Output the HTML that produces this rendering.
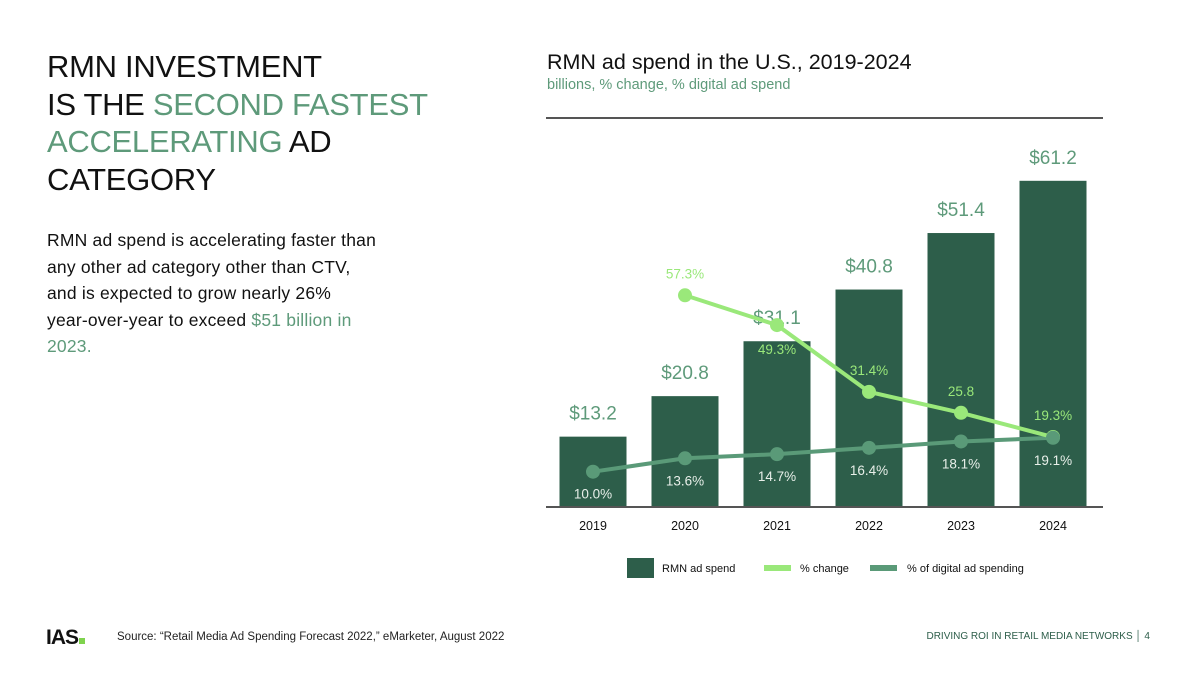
<!DOCTYPE html>
<html><head><meta charset="utf-8"><style>
body{margin:0;width:1200px;height:675px;background:#fff;font-family:"Liberation Sans",sans-serif;position:relative;overflow:hidden;color:#111}
.h{position:absolute;left:47px;top:48px;font-size:31px;line-height:37.5px;color:#111;letter-spacing:-0.3px}
.g{color:#5e9a7a}
.p{position:absolute;left:47px;top:227px;font-size:17.5px;line-height:26.6px;width:360px;white-space:nowrap;letter-spacing:0.2px}
.ct{position:absolute;left:547px;top:50px;font-size:21.5px}
.cs{position:absolute;left:547px;top:77px;font-size:14.5px;color:#5e9a7a}
.f{position:absolute;top:631px;font-size:11.5px;color:#222}
</style></head><body>
<div class="h">RMN INVESTMENT<br>IS THE <span class="g">SECOND FASTEST</span><br><span class="g">ACCELERATING</span> AD<br>CATEGORY</div>
<div class="p">RMN ad spend is accelerating faster than<br>any other ad category other than CTV,<br>and is expected to grow nearly 26%<br>year-over-year to exceed <span class="g">$51 billion in<br>2023.</span></div>
<div class="ct">RMN ad spend in the U.S., 2019-2024</div>
<div class="cs">billions, % change, % digital ad spend</div>
<svg id="c" width="1200" height="675" style="position:absolute;left:0;top:0"></svg>
<div style="position:absolute;left:46px;top:626px;font-size:21px;font-weight:bold;letter-spacing:-1px">IAS<span style="display:inline-block;width:6px;height:6px;background:#7fd34e;margin-left:1px"></span></div>
<div class="f" style="left:117px">Source: “Retail Media Ad Spending Forecast 2022,” eMarketer, August 2022</div>
<div class="f" style="right:50px;font-size:10px;color:#2d5e4a">DRIVING ROI IN RETAIL MEDIA NETWORKS │ 4</div>
<script>
const years=["2019","2020","2021","2022","2023","2024"];
const spend=[13.2,20.8,31.1,40.8,51.4,61.2];
const spendLabels=["$13.2","$20.8","$31.1","$40.8","$51.4","$61.2"];
const change=[null,57.3,49.3,31.4,25.8,19.3];
const changeLabels=["","57.3%","49.3%","31.4%","25.8","19.3%"];
const share=[10.0,13.6,14.7,16.4,18.1,19.1];
const shareLabels=["10.0%","13.6%","14.7%","16.4%","18.1%","19.1%"];
const svg=document.getElementById('c'),NS="http://www.w3.org/2000/svg";
const base=507;
const x=i=>593+i*92;
const yb=v=>base-v*5.33;
const yp=v=>509-v*3.73;
function mk(t,a,txt){const e=document.createElementNS(NS,t);for(const k in a)e.setAttribute(k,a[k]);if(txt!=null)e.textContent=txt;svg.appendChild(e);return e;}
let e=mk('line',{x1:546,x2:1103,y1:118,y2:118,stroke:'#555','stroke-width':2});

spend.forEach((v,i)=>{
 e=mk('rect',{x:x(i)-33.5,y:yb(v),width:67,height:base-yb(v),fill:'#2d5e4a'});
 
 e=mk('text',{x:x(i),y:yb(v)-17,'text-anchor':'middle','font-size':19,fill:'#5e9a7a'},spendLabels[i]);
 
 e=mk('text',{x:x(i),y:530,'text-anchor':'middle','font-size':12.5,fill:'#111'},years[i]);
 
});
e=mk('line',{x1:546,x2:1103,y1:base,y2:base,stroke:'#555','stroke-width':2});

e=mk('polyline',{points:share.map((v,i)=>x(i)+','+yp(v)).join(' '),fill:'none',stroke:'#5a9a78','stroke-width':4});

const cp=change.map((v,i)=>v==null?null:x(i)+','+yp(v)).filter(p=>p);
e=mk('polyline',{points:cp.join(' '),fill:'none',stroke:'#9ae87a','stroke-width':4});

change.forEach((v,i)=>{if(v==null)return;
 e=mk('circle',{cx:x(i),cy:yp(v),r:7,fill:'#9ae87a'});
 
 const dy=i==2?29:-17;
 e=mk('text',{x:x(i),y:yp(v)+dy,'text-anchor':'middle','font-size':13.5,fill:'#9ae87a'},changeLabels[i]);
 
});
share.forEach((v,i)=>{
 e=mk('circle',{cx:x(i),cy:yp(v),r:7,fill:'#5a9a78'});
 
 e=mk('text',{x:x(i),y:yp(v)+27,'text-anchor':'middle','font-size':13.5,fill:'#e8efe9'},shareLabels[i]);
 
});
e=mk('rect',{x:627,y:558,width:27,height:20,fill:'#2d5e4a'});
e=mk('text',{x:662,y:572,'font-size':11,fill:'#111'},'RMN ad spend');
e=mk('rect',{x:764,y:565,width:27,height:6,fill:'#9ae87a'});
e=mk('text',{x:800,y:572,'font-size':11,fill:'#111'},'% change');
e=mk('rect',{x:870,y:565,width:27,height:6,fill:'#5a9a78'});
e=mk('text',{x:907,y:572,'font-size':11,fill:'#111'},'% of digital ad spending');
</script>
</body></html>
